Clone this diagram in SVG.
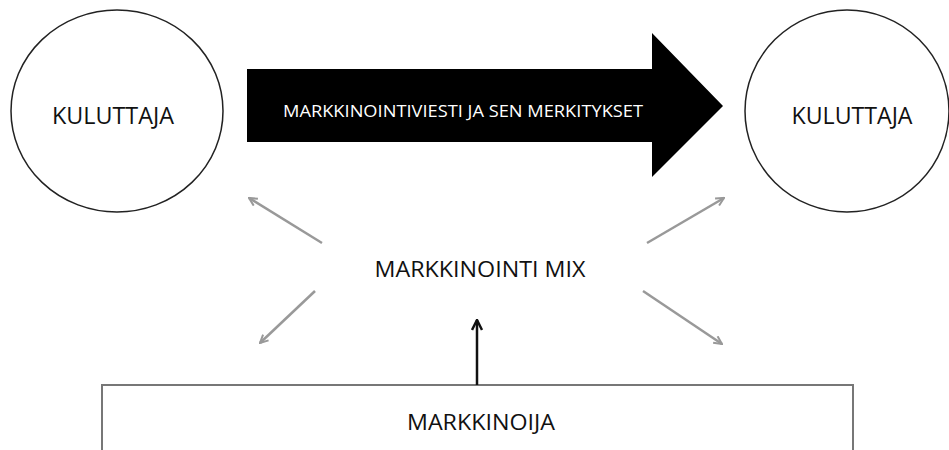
<svg xmlns="http://www.w3.org/2000/svg" width="949" height="450" viewBox="0 0 949 450">
<defs>
<style>
.node{fill:#fff;stroke:#222;stroke-width:1.5}
.lbl{font-family:"Open Sans","Liberation Sans",sans-serif;fill:#111;text-anchor:middle}
.g{stroke:#999;stroke-width:2.5;fill:none;marker-end:url(#ga)}
</style>
<marker id="ga" viewBox="0 0 10 10" refX="9" refY="5" markerWidth="4" markerHeight="4" orient="auto" markerUnits="strokeWidth">
<path d="M1,1 L9,5 L1,9" fill="none" stroke="#999" stroke-width="2"/>
</marker>
<marker id="ba" viewBox="0 0 10 10" refX="9" refY="5" markerWidth="5" markerHeight="5" orient="auto" markerUnits="strokeWidth">
<path d="M1,1 L9,5 L1,9" fill="none" stroke="#111" stroke-width="2"/>
</marker>
</defs>
<rect width="949" height="450" fill="#fff"/>
<g id="kuluttaja-left">
<ellipse class="node" cx="117" cy="111" rx="106" ry="101"/>
<text class="lbl" x="113" y="124" font-size="23.5" textLength="122" lengthAdjust="spacingAndGlyphs">KULUTTAJA</text>
</g>
<g id="kuluttaja-right">
<ellipse class="node" cx="847" cy="111" rx="102" ry="101"/>
<text class="lbl" x="852" y="124" font-size="23.5" textLength="121" lengthAdjust="spacingAndGlyphs">KULUTTAJA</text>
</g>
<g id="viesti">
<polygon points="247,69 652,69 652,33 723,106 652,177 652,142 247,142" fill="#000"/>
<text x="463" y="117" font-family="'Open Sans','Liberation Sans',sans-serif" font-size="15.5" fill="#fff" text-anchor="middle" textLength="360" lengthAdjust="spacingAndGlyphs">MARKKINOINTIVIESTI JA SEN MERKITYKSET</text>
</g>
<g id="mix">
<text class="lbl" x="480" y="277" font-size="21" textLength="211" lengthAdjust="spacingAndGlyphs">MARKKINOINTI MIX</text>
</g>
<g id="markkinoija">
<path d="M102,452 L102,385 L853,385 L853,452" fill="#fff" stroke="#777" stroke-width="2"/>
<text class="lbl" x="481" y="430" font-size="21" textLength="148" lengthAdjust="spacingAndGlyphs">MARKKINOIJA</text>
</g>
<g id="connectors">
<line class="g" x1="322" y1="243" x2="249" y2="198"/>
<line class="g" x1="647" y1="243" x2="724" y2="198"/>
<line class="g" x1="315" y1="291" x2="260" y2="343"/>
<line class="g" x1="643" y1="291" x2="722" y2="344"/>
<line x1="477" y1="385" x2="477" y2="320" stroke="#111" stroke-width="2.5" marker-end="url(#ba)"/>
</g>
</svg>
